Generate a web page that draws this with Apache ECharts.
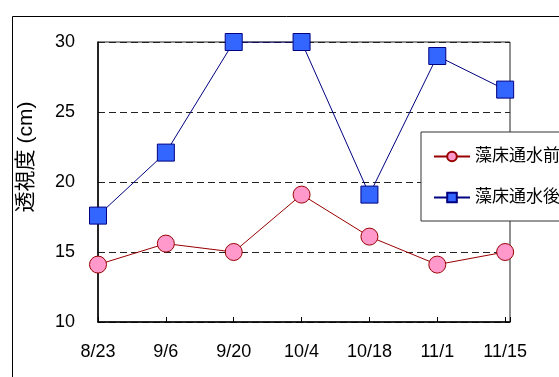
<!DOCTYPE html>
<html>
<head>
<meta charset="utf-8">
<script src="https://cdn.jsdelivr.net/npm/echarts@6/dist/echarts.min.js"></script>
<style>
html,body{margin:0;padding:0;background:#fff;}
#chart{width:559px;height:377px;}
</style>
</head>
<body>
<div id="chart"></div>
<script>
// Data
const dateLabels = ["8/23", "9/6", "9/20", "10/4", "10/18", "11/1", "11/15"];
const dayOffsets = [0, 14, 28, 42, 56, 70, 84];
const seriesNames = ["藻床通水前", "藻床通水後"];
const beforeValues = [14.1, 15.6, 15.0, 19.1, 16.1, 14.1, 15.0];
const afterValues = [17.6, 22.1, 30.0, 30.0, 19.1, 29.0, 26.6];
const yTicks = [10, 15, 20, 25, 30];

const FONT = "'Liberation Sans', Arial, 'Noto Sans CJK JP', sans-serif";

const labelByDay = {};
dayOffsets.forEach((d, i) => { labelByDay[d] = dateLabels[i]; });

const toPairs = vals => vals.map((v, i) => [dayOffsets[i], v]);

const chart = echarts.init(document.getElementById('chart'), null, {renderer: 'canvas'});
chart.setOption({
  animation: false,
  backgroundColor: '#fff',
  textStyle: {fontFamily: FONT},
  grid: {left: 98, top: 42, right: 49, bottom: 55, show: true, borderColor: '#222', borderWidth: 1, backgroundColor: 'transparent'},
  xAxis: {
    type: 'value', min: 0, max: 85, interval: 14,
    axisLine: {show: true, lineStyle: {color: '#000', width: 1.5}},
    axisTick: {show: true, inside: true, length: 5, lineStyle: {color: '#000'}},
    splitLine: {show: false},
    axisLabel: {
      margin: 21, color: '#000', fontSize: 18, fontFamily: FONT,
      formatter: v => labelByDay[v] !== undefined ? labelByDay[v] : ''
    }
  },
  yAxis: {
    type: 'value', min: yTicks[0], max: yTicks[yTicks.length - 1], interval: 5,
    axisLine: {show: true, lineStyle: {color: '#000', width: 1.5}},
    axisTick: {show: false},
    splitLine: {show: true, lineStyle: {color: '#222', type: [7, 4], width: 1}},
    axisLabel: {margin: 23, color: '#000', fontSize: 18, fontFamily: FONT}
  },
  legend: {
    orient: 'vertical', left: 421, top: 132,
    padding: [16, 120, 15, 12],
    itemGap: 24, itemWidth: 36, itemHeight: 12,
    backgroundColor: '#fff', borderColor: '#333', borderWidth: 1,
    textStyle: {fontSize: 17, lineHeight: 17, color: '#000', fontFamily: FONT},
    data: seriesNames
  },
  graphic: [
    {type: 'rect', left: 10, top: 14, shape: {width: 600, height: 400}, style: {fill: 'none', stroke: '#000', lineWidth: 1}, z: -1, silent: true},
    {type: 'text', x: 26, y: 157, rotation: Math.PI / 2,
     style: {text: '透視度 (cm)', fontSize: 21, fontFamily: FONT, fill: '#000', align: 'center', verticalAlign: 'middle'}}
  ],
  series: [
    {
      name: seriesNames[0], type: 'line', data: toPairs(beforeValues),
      symbol: 'circle', symbolSize: 17,
      lineStyle: {color: '#990000', width: 1},
      itemStyle: {color: '#FF99CC', borderColor: '#990000', borderWidth: 1}
    },
    {
      name: seriesNames[1], type: 'line', data: toPairs(afterValues),
      symbol: 'rect', symbolSize: 17,
      lineStyle: {color: '#000080', width: 1},
      itemStyle: {color: '#3366FF', borderColor: '#000080', borderWidth: 1}
    }
  ]
});
</script>
</body>
</html>
